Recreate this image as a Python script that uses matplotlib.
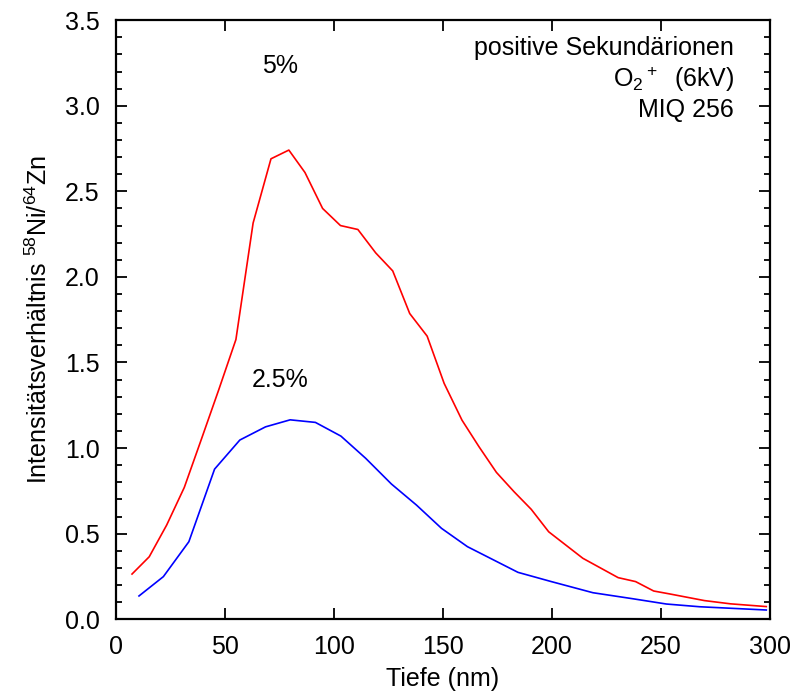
import matplotlib
matplotlib.use("Agg")
import matplotlib.pyplot as plt
from matplotlib.ticker import MultipleLocator

plt.rcParams['font.family'] = ['Liberation Sans', 'DejaVu Sans']
plt.rcParams['mathtext.fontset'] = 'custom'
plt.rcParams['mathtext.rm'] = 'Liberation Sans'
plt.rcParams['mathtext.it'] = 'Liberation Sans'

# 5% series (red)
x_5 = [7.2, 15.1, 23.1, 31.2, 39, 47, 54.9, 62.8, 71.0, 79.2, 86.6, 94.7, 102.9, 110.9,
       119.1, 126.9, 134.7, 142.7, 150.5, 158.7, 166.5, 174.5, 182.6, 190.5, 198.5,
       214.2, 230.4, 238.4, 246.7, 254, 270, 282, 298.4]
y_5 = [0.264, 0.365, 0.55, 0.77, 1.05, 1.34, 1.634, 2.315, 2.69, 2.741, 2.61, 2.40, 2.30, 2.277,
       2.14, 2.035, 1.786, 1.654, 1.378, 1.163, 1.008, 0.858, 0.745, 0.642, 0.511,
       0.356, 0.243, 0.22, 0.165, 0.148, 0.109, 0.09, 0.074]

# 2.5% series (blue)
x_25 = [10.4, 21.6, 33.3, 45.1, 56.7, 68.5, 79.8, 91.4, 103.1, 114.5, 126.3, 137.8,
        149.3, 161.2, 184.4, 199.7, 218.8, 237, 252.5, 267.8, 298.4]
y_25 = [0.136, 0.249, 0.453, 0.877, 1.047, 1.124, 1.165, 1.15, 1.07, 0.94, 0.79, 0.667,
        0.531, 0.424, 0.274, 0.22, 0.155, 0.12, 0.089, 0.073, 0.054]

FS = 18

fig = plt.figure(figsize=(7.93, 6.95), dpi=100)
ax = fig.add_axes([0.1467, 0.109, 0.824, 0.862])

ax.plot(x_5, y_5, color='#ff0000', lw=1.2)
ax.plot(x_25, y_25, color='#0000ff', lw=1.2)

ax.set_xlim(0, 300)
ax.set_ylim(0, 3.5)
ax.xaxis.set_major_locator(MultipleLocator(50))
ax.yaxis.set_major_locator(MultipleLocator(0.5))
ax.yaxis.set_minor_locator(MultipleLocator(0.1))
ax.yaxis.set_major_formatter(matplotlib.ticker.FormatStrFormatter('%.1f'))
ax.tick_params(which='both', direction='in', top=True, right=True, labelsize=FS, width=1.3)
ax.tick_params(which='major', length=8, pad=12)
ax.tick_params(axis='x', which='major', pad=11)
ax.tick_params(which='minor', length=4)
for s in ax.spines.values():
    s.set_linewidth(1.6)

ax.set_xlabel('Tiefe (nm)', fontsize=FS, labelpad=6)
ax.set_ylabel(r'Intensitätsverhältnis $\mathregular{^{58}}$Ni/$\mathregular{^{64}}$Zn', fontsize=FS, labelpad=9)

ax.text(75, 3.23, '5%', fontsize=FS, ha='center', va='center')
ax.text(75, 1.40, '2.5%', fontsize=FS, ha='center', va='center')

ax.text(283.5, 3.34, 'positive Sekundärionen', fontsize=FS, ha='right', va='center')
ax.text(283.5, 3.155, r'O$\mathregular{_2}$$\mathregular{^+}$  (6kV)', fontsize=FS, ha='right', va='center')
ax.text(283.5, 2.973, 'MIQ 256', fontsize=FS, ha='right', va='center')

fig.savefig('out.png', dpi=100)
